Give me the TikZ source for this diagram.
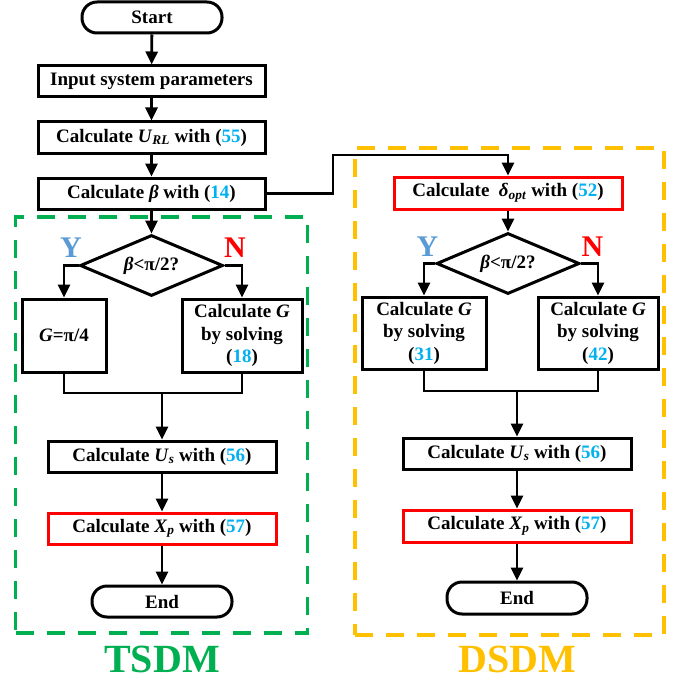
\documentclass[tikz,border=0pt]{standalone}
\usepackage{fontspec}
\setmainfont{Liberation Serif}
\usetikzlibrary{shapes.geometric,arrows.meta}
\definecolor{numc}{HTML}{00B0F0}
\definecolor{ycol}{HTML}{5B9BD5}
\definecolor{tsdmc}{HTML}{00B050}
\definecolor{dsdmc}{HTML}{FFC000}
\newcommand{\eqref}[1]{(\textcolor{numc}{#1})}
\begin{document}
\begin{tikzpicture}[x=1pt,y=-1pt,
  every node/.style={font=\fontsize{19}{22.5}\selectfont\bfseries},
  box/.style={draw,line width=3pt,minimum height=31pt,inner sep=0pt,align=center},
  redbox/.style={box,draw=red},
  term/.style={draw,line width=3pt,rounded corners=15pt,minimum width=140pt,minimum height=31pt,inner sep=0pt},
  dec/.style={draw,diamond,line width=3pt,minimum width=143pt,minimum height=61pt,inner sep=0pt,aspect=2.3},
  arr/.style={line width=2.8pt,-{Triangle[length=13pt,width=12pt]}},
  ln/.style={line width=2.8pt},
  yn/.style={font=\fontsize{30}{30}\selectfont\bfseries},
  group/.style={line width=3.2pt,dash pattern=on 18pt off 13pt,minimum width=#1},
  title/.style={font=\fontsize{40}{40}\selectfont\bfseries}
]
\useasboundingbox (0,0) rectangle (685,682);

% group frames
\node[group=292pt,draw=tsdmc,minimum height=416pt] (tframe) at (161.5,425) {};
\node[group=309pt,draw=dsdmc,minimum height=487pt] (dframe) at (509.5,391.5) {};

% left column
\node[term] (start) at (152,17.5) {Start};
\node[box,minimum width=227pt] (inp) at (151.5,81.5) {Input system parameters};
\node[box,minimum width=227pt] (url) at (151.5,137.5) {Calculate \textit{U}\textsubscript{\textit{RL}} with \eqref{55}};
\node[box,minimum width=227pt] (beta) at (151.5,193.5) {Calculate \textit{β} with \eqref{14}};
\node[dec] (d1) at (151.5,265.5) {\textit{β}<π/2?};
\node[box,minimum width=84pt,minimum height=73pt] (g1) at (64,335.5) {\textit{G}=π/4};
\node[box,minimum width=120pt,minimum height=73pt] (g2) at (242,335.5) {Calculate \textit{G}\\by solving\\\eqref{18}};
\node[box,minimum width=228pt] (us1) at (162,456.5) {Calculate \textit{U}\textsubscript{\textit{s}} with \eqref{56}};
\node[redbox,minimum width=228pt] (xp1) at (162,528.5) {Calculate \textit{X}\textsubscript{\textit{p}} with \eqref{57}};
\node[term] (end1) at (162,601.5) {End};
\node[yn,text=ycol] (y1) at (71,248) {Y};
\node[yn,text=red] (n1) at (235,248) {N};
\node[title,text=tsdmc] (tl) at (162,659) {TSDM};

% right column
\node[redbox,minimum width=228pt,minimum height=32pt] (delta) at (508,193) {Calculate\ \ \textit{δ}\textsubscript{\textit{opt}} with \eqref{52}};
\node[dec] (d2) at (508,263.5) {\textit{β}<π/2?};
\node[box,minimum width=124pt,minimum height=72pt] (g3) at (424,333) {Calculate \textit{G}\\by solving\\\eqref{31}};
\node[box,minimum width=120pt,minimum height=72pt] (g4) at (598,333) {Calculate \textit{G}\\by solving\\\eqref{42}};
\node[box,minimum width=228pt] (us2) at (517,453.5) {Calculate \textit{U}\textsubscript{\textit{s}} with \eqref{56}};
\node[redbox,minimum width=228pt,minimum height=32pt] (xp2) at (517,526) {Calculate \textit{X}\textsubscript{\textit{p}} with \eqref{57}};
\node[term,minimum height=32pt] (end2) at (517,598) {End};
\node[yn,text=ycol] (y2) at (427.5,247) {Y};
\node[yn,text=red] (n2) at (592.5,247) {N};
\node[title,text=dsdmc] (dl) at (517,659) {DSDM};

% connectors left
\draw[arr] (start) -- (inp);
\draw[arr] (inp) -- (url);
\draw[arr] (url) -- (beta);
\draw[arr] (beta) -- (d1);
\draw[arr] (d1.west) -| (g1.north);
\draw[arr] (d1.east) -| (g2.north);
\coordinate (m1) at (162,393);
\draw[ln] (g1.south) |- (m1) -| (g2.south);
\draw[arr] (m1) -- (us1.north);
\draw[arr] (us1) -- (xp1);
\draw[arr] (xp1) -- (end1);

% cross connector
\coordinate (c1) at (333,155);
\draw[arr] (beta.east) -| (c1) -| (delta.north);

% connectors right
\draw[arr] (delta) -- (d2);
\draw[arr] (d2.west) -| (g3.north);
\draw[arr] (d2.east) -| (g4.north);
\coordinate (m2) at (517,391);
\draw[ln] (g3.south) |- (m2) -| (g4.south);
\draw[arr] (m2) -- (us2.north);
\draw[arr] (us2) -- (xp2);
\draw[arr] (xp2) -- (end2);
\end{tikzpicture}
\end{document}
